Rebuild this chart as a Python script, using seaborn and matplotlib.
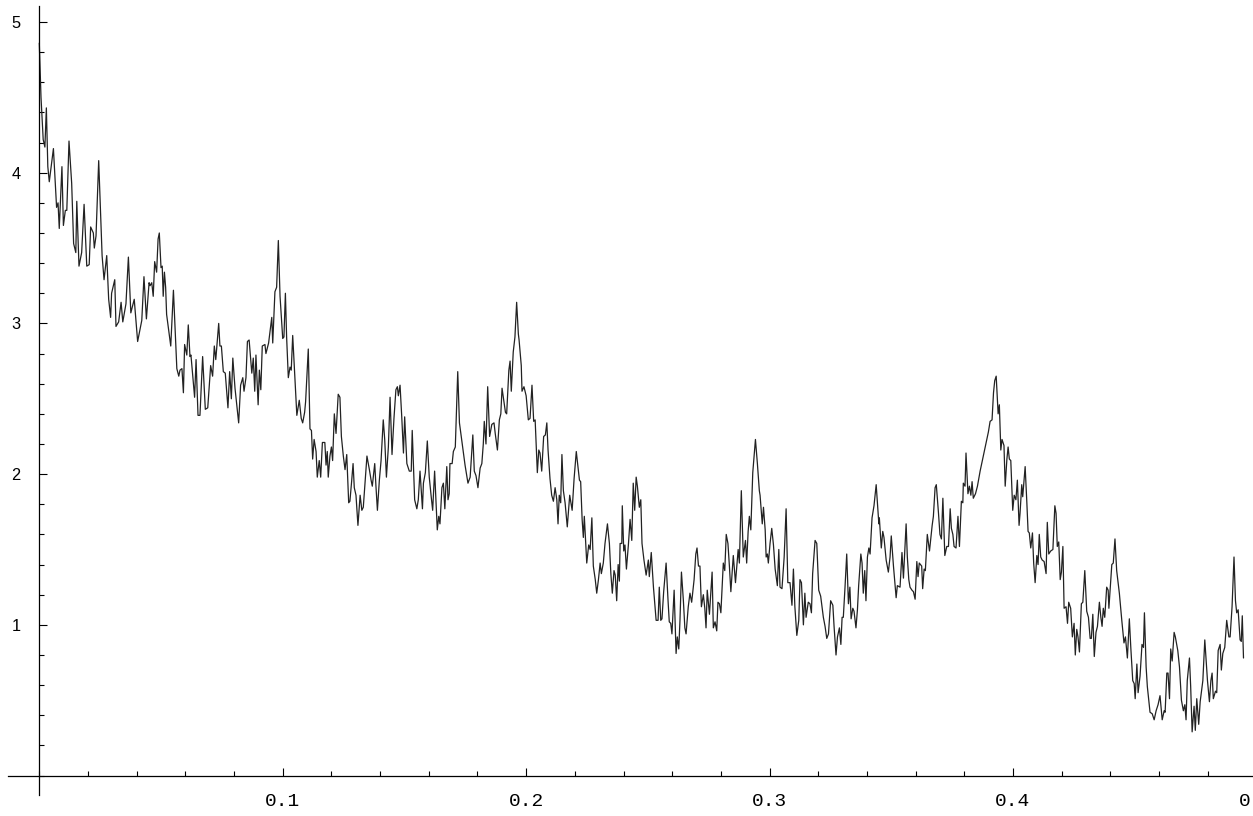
import matplotlib
matplotlib.use('Agg')
import matplotlib.pyplot as plt
from matplotlib.ticker import MultipleLocator
import seaborn as sns

# curve vertices, in pieces from left to right
x1 = [0.0000, 0.0007, 0.0016, 0.0023, 0.0029, 0.0035, 0.0041, 0.0058, 0.0071, 0.0077,
      0.0082, 0.0093, 0.0099, 0.0107, 0.0113, 0.0122, 0.0133, 0.0141, 0.0150, 0.0154,
      0.0163, 0.0174, 0.0184, 0.0195, 0.0205, 0.0211, 0.0222, 0.0226, 0.0233, 0.0244,
      0.0258, 0.0266, 0.0277, 0.0285, 0.0293, 0.0297, 0.0310, 0.0315, 0.0326, 0.0336,
      0.0343, 0.0356, 0.0366, 0.0376, 0.0390, 0.0404, 0.0421, 0.0430, 0.0440, 0.0451]
y1 = [4.86, 4.50, 4.22, 4.17, 4.43, 4.04, 3.94, 4.16, 3.77, 3.80,
      3.63, 4.04, 3.65, 3.75, 3.75, 4.21, 3.93, 3.53, 3.47, 3.81,
      3.38, 3.47, 3.79, 3.38, 3.39, 3.64, 3.60, 3.50, 3.58, 4.08,
      3.45, 3.29, 3.45, 3.16, 3.04, 3.20, 3.29, 2.98, 3.01, 3.14,
      3.01, 3.13, 3.44, 3.07, 3.16, 2.88, 3.02, 3.31, 3.03, 3.27]

x2 = [0.0455, 0.0462, 0.0468, 0.0474, 0.0482, 0.0488, 0.0493, 0.0500, 0.0505, 0.0509,
      0.0514, 0.0519, 0.0523, 0.0540, 0.0551, 0.0565, 0.0573, 0.0578, 0.0586, 0.0592,
      0.0597, 0.0606, 0.0612, 0.0619, 0.0623, 0.0633, 0.0638, 0.0644, 0.0652, 0.0660,
      0.0671, 0.0682, 0.0692, 0.0704, 0.0712, 0.0719, 0.0725, 0.0737, 0.0742, 0.0748,
      0.0756, 0.0764, 0.0775, 0.0782, 0.0789, 0.0795, 0.0804, 0.0819, 0.0827, 0.0836,
      0.0841, 0.0849, 0.0855, 0.0862, 0.0873, 0.0879, 0.0885, 0.0890, 0.0899, 0.0904,
      0.0910, 0.0916, 0.0927, 0.0931, 0.0942, 0.0955]
y2 = [3.25, 3.27, 3.18, 3.41, 3.34, 3.56, 3.60, 3.37, 3.38, 3.18,
      3.34, 3.24, 3.06, 2.85, 3.22, 2.70, 2.65, 2.69, 2.70, 2.54,
      2.86, 2.79, 2.99, 2.78, 2.79, 2.60, 2.51, 2.76, 2.39, 2.39,
      2.78, 2.43, 2.44, 2.72, 2.65, 2.85, 2.76, 3.00, 2.85, 2.85,
      2.68, 2.67, 2.44, 2.68, 2.50, 2.77, 2.57, 2.34, 2.59, 2.64,
      2.55, 2.64, 2.88, 2.89, 2.67, 2.77, 2.55, 2.79, 2.46, 2.69,
      2.56, 2.85, 2.86, 2.80, 2.87, 3.04]

x3 = [0.0959, 0.0968, 0.0975, 0.0982, 0.0989, 0.1000, 0.1005, 0.1011, 0.1016, 0.1023,
      0.1030, 0.1035, 0.1041, 0.1046, 0.1058, 0.1068, 0.1076, 0.1082, 0.1090, 0.1094,
      0.1105, 0.1112, 0.1118, 0.1123, 0.1129, 0.1137, 0.1142, 0.1150, 0.1156, 0.1163,
      0.1173, 0.1178, 0.1183, 0.1187, 0.1194, 0.1200, 0.1205, 0.1212, 0.1219, 0.1228,
      0.1235, 0.1241, 0.1249, 0.1256, 0.1263, 0.1271, 0.1276, 0.1283, 0.1289, 0.1294,
      0.1301, 0.1309, 0.1318, 0.1325, 0.1331, 0.1346, 0.1356, 0.1363, 0.1368, 0.1378,
      0.1383, 0.1389, 0.1397, 0.1404, 0.1413, 0.1419, 0.1426, 0.1434, 0.1441, 0.1449,
      0.1457, 0.1465, 0.1471, 0.1475, 0.1482]
y3 = [2.87, 3.21, 3.24, 3.55, 3.18, 2.90, 2.91, 3.20, 2.91, 2.64,
      2.71, 2.69, 2.92, 2.76, 2.39, 2.49, 2.37, 2.34, 2.41, 2.48,
      2.83, 2.30, 2.29, 2.10, 2.23, 2.15, 1.98, 2.09, 1.98, 2.21,
      2.21, 2.06, 2.15, 1.98, 2.12, 2.18, 2.09, 2.40, 2.27, 2.53,
      2.51, 2.25, 2.12, 2.03, 2.13, 1.81, 1.82, 1.95, 2.07, 1.91,
      1.86, 1.66, 1.86, 1.76, 1.78, 2.12, 2.03, 1.96, 1.92, 2.07,
      1.92, 1.76, 1.96, 2.09, 2.36, 2.23, 1.98, 2.18, 2.51, 2.13,
      2.37, 2.56, 2.58, 2.52, 2.59]

x4 = [0.1489, 0.1496, 0.1501, 0.1510, 0.1520, 0.1528, 0.1532, 0.1542, 0.1551, 0.1557,
      0.1564, 0.1574, 0.1578, 0.1586, 0.1594, 0.1602, 0.1610, 0.1616, 0.1624, 0.1635,
      0.1641, 0.1646, 0.1654, 0.1660, 0.1666, 0.1674, 0.1679, 0.1684, 0.1687, 0.1696,
      0.1701, 0.1709, 0.1719, 0.1726, 0.1735, 0.1749, 0.1761, 0.1770, 0.1781, 0.1787,
      0.1794, 0.1802, 0.1811, 0.1818, 0.1824, 0.1828, 0.1835, 0.1842, 0.1850, 0.1859,
      0.1868, 0.1873, 0.1882, 0.1890, 0.1896, 0.1901, 0.1909, 0.1915, 0.1920, 0.1929,
      0.1934, 0.1939, 0.1947, 0.1954, 0.1961, 0.1968]
y4 = [2.38, 2.14, 2.38, 2.07, 2.02, 2.02, 2.29, 1.83, 1.77, 1.83,
      2.02, 1.77, 1.94, 2.01, 2.22, 1.98, 1.85, 1.76, 2.02, 1.63,
      1.72, 1.67, 1.91, 1.94, 1.77, 2.05, 1.83, 1.87, 2.07, 2.07,
      2.15, 2.18, 2.68, 2.34, 2.23, 2.06, 1.94, 1.98, 2.26, 2.02,
      1.99, 1.91, 2.04, 2.07, 2.20, 2.35, 2.20, 2.58, 2.25, 2.33,
      2.34, 2.27, 2.16, 2.36, 2.40, 2.57, 2.48, 2.41, 2.40, 2.69,
      2.75, 2.55, 2.81, 2.91, 3.14, 2.93]

x5 = [0.1971, 0.1980, 0.1983, 0.1991, 0.2000, 0.2009, 0.2016, 0.2024, 0.2031, 0.2037,
      0.2046, 0.2052, 0.2057, 0.2064, 0.2072, 0.2079, 0.2085, 0.2090, 0.2098, 0.2105,
      0.2112, 0.2119, 0.2126, 0.2131, 0.2136, 0.2142, 0.2147, 0.2153, 0.2160, 0.2169,
      0.2179, 0.2189, 0.2197, 0.2206, 0.2219, 0.2224, 0.2230, 0.2235, 0.2239, 0.2249,
      0.2257, 0.2263, 0.2270, 0.2276, 0.2284, 0.2290, 0.2297, 0.2304, 0.2309, 0.2317,
      0.2324, 0.2334, 0.2342, 0.2348, 0.2354, 0.2361, 0.2366, 0.2372, 0.2378, 0.2383,
      0.2386, 0.2393, 0.2395, 0.2401, 0.2406, 0.2412, 0.2420, 0.2427]
y5 = [2.89, 2.72, 2.55, 2.58, 2.52, 2.36, 2.37, 2.59, 2.35, 2.36,
      2.01, 2.16, 2.14, 2.02, 2.25, 2.26, 2.34, 2.16, 1.97, 1.86,
      1.82, 1.91, 1.83, 1.67, 1.86, 1.81, 2.13, 1.89, 1.81, 1.65,
      1.86, 1.76, 1.97, 2.15, 1.96, 1.95, 1.70, 1.58, 1.72, 1.41,
      1.53, 1.50, 1.71, 1.39, 1.30, 1.21, 1.30, 1.41, 1.34, 1.41,
      1.54, 1.67, 1.54, 1.34, 1.21, 1.36, 1.33, 1.16, 1.40, 1.29,
      1.54, 1.54, 1.79, 1.49, 1.53, 1.37, 1.53, 1.70]

x6 = [0.2434, 0.2440, 0.2446, 0.2452, 0.2457, 0.2465, 0.2471, 0.2476, 0.2484, 0.2493,
      0.2502, 0.2506, 0.2514, 0.2523, 0.2534, 0.2542, 0.2547, 0.2553, 0.2558, 0.2565,
      0.2575, 0.2583, 0.2588, 0.2594, 0.2599, 0.2608, 0.2616, 0.2621, 0.2627, 0.2632,
      0.2638, 0.2646, 0.2652, 0.2657, 0.2666, 0.2673, 0.2680, 0.2690, 0.2697, 0.2702,
      0.2708, 0.2714, 0.2720, 0.2728, 0.2734, 0.2739, 0.2744, 0.2753, 0.2764, 0.2769,
      0.2776, 0.2783, 0.2788, 0.2794, 0.2800, 0.2810, 0.2816, 0.2822, 0.2829, 0.2835,
      0.2841, 0.2851, 0.2860, 0.2871, 0.2876, 0.2884, 0.2892, 0.2901, 0.2906, 0.2912,
      0.2917, 0.2923, 0.2931, 0.2942, 0.2950, 0.2958]
y6 = [1.56, 1.94, 1.76, 1.98, 1.92, 1.78, 1.83, 1.54, 1.43, 1.33,
      1.43, 1.32, 1.48, 1.25, 1.03, 1.03, 1.25, 1.03, 1.04, 1.22,
      1.41, 1.16, 1.02, 1.01, 0.94, 1.23, 0.81, 0.92, 0.84, 1.03,
      1.35, 1.16, 0.98, 0.94, 1.12, 1.21, 1.15, 1.30, 1.47, 1.51,
      1.39, 1.39, 1.12, 1.20, 1.11, 0.98, 1.23, 1.07, 1.35, 0.98,
      1.02, 0.96, 1.15, 1.14, 1.08, 1.41, 1.36, 1.60, 1.54, 1.39,
      1.22, 1.46, 1.28, 1.50, 1.41, 1.89, 1.45, 1.56, 1.41, 1.62,
      1.72, 1.63, 2.01, 2.23, 2.07, 1.89]

x7 = [0.2961, 0.2970, 0.2975, 0.2982, 0.2986, 0.2991, 0.2995, 0.3002, 0.3009, 0.3016,
      0.3023, 0.3032, 0.3038, 0.3043, 0.3051, 0.3060, 0.3068, 0.3075, 0.3084, 0.3092,
      0.3098, 0.3104, 0.3112, 0.3120, 0.3125, 0.3131, 0.3139, 0.3145, 0.3150, 0.3159,
      0.3166, 0.3172, 0.3177, 0.3187, 0.3194, 0.3202, 0.3210, 0.3221, 0.3228, 0.3235,
      0.3242, 0.3251, 0.3260, 0.3265, 0.3273, 0.3279, 0.3287, 0.3293, 0.3298, 0.3303,
      0.3310, 0.3317, 0.3324, 0.3330, 0.3335, 0.3342, 0.3347, 0.3355, 0.3361, 0.3366,
      0.3375, 0.3380, 0.3385, 0.3391, 0.3396, 0.3402, 0.3408, 0.3413, 0.3421, 0.3429,
      0.3438]
y7 = [1.86, 1.67, 1.78, 1.63, 1.45, 1.47, 1.41, 1.54, 1.64, 1.53,
      1.37, 1.26, 1.50, 1.25, 1.24, 1.45, 1.77, 1.28, 1.28, 1.13,
      1.37, 1.12, 0.93, 1.03, 1.30, 1.28, 1.00, 1.21, 1.05, 1.15,
      1.14, 1.08, 1.34, 1.56, 1.54, 1.23, 1.19, 1.05, 0.99, 0.91,
      0.94, 1.16, 1.13, 0.99, 0.80, 0.92, 0.98, 0.87, 1.05, 1.05,
      1.25, 1.47, 1.14, 1.25, 1.04, 1.11, 1.09, 0.98, 1.10, 1.26,
      1.47, 1.41, 1.21, 1.36, 1.16, 1.45, 1.51, 1.47, 1.71, 1.79,
      1.93]

x8 = [0.3449, 0.3451, 0.3459, 0.3465, 0.3470, 0.3479, 0.3488, 0.3495, 0.3500, 0.3509,
      0.3520, 0.3525, 0.3536, 0.3544, 0.3550, 0.3561, 0.3566, 0.3572, 0.3577, 0.3585,
      0.3591, 0.3598, 0.3605, 0.3610, 0.3615, 0.3625, 0.3629, 0.3635, 0.3640, 0.3648,
      0.3657, 0.3668, 0.3673, 0.3680, 0.3685, 0.3694, 0.3700, 0.3706, 0.3712, 0.3720,
      0.3728, 0.3735, 0.3742, 0.3747, 0.3753, 0.3758, 0.3766, 0.3774, 0.3780, 0.3788,
      0.3794, 0.3796, 0.3803, 0.3807, 0.3815, 0.3821, 0.3827, 0.3832, 0.3837, 0.3846,
      0.3854, 0.3865, 0.3878, 0.3892, 0.3899, 0.3906, 0.3914, 0.3920, 0.3925, 0.3931,
      0.3939, 0.3944]
y8 = [1.67, 1.71, 1.51, 1.62, 1.58, 1.43, 1.35, 1.45, 1.59, 1.39,
      1.18, 1.26, 1.25, 1.48, 1.31, 1.67, 1.45, 1.30, 1.25, 1.23,
      1.22, 1.17, 1.42, 1.32, 1.41, 1.39, 1.24, 1.37, 1.36, 1.60,
      1.49, 1.66, 1.72, 1.91, 1.93, 1.74, 1.60, 1.57, 1.84, 1.46,
      1.52, 1.52, 1.77, 1.64, 1.60, 1.52, 1.51, 1.72, 1.52, 1.82,
      1.81, 1.94, 1.92, 2.14, 1.87, 1.92, 1.86, 1.95, 1.84, 1.87,
      1.92, 2.02, 2.12, 2.23, 2.28, 2.35, 2.36, 2.54, 2.62, 2.65,
      2.40, 2.46]

x9 = [0.3950, 0.3955, 0.3963, 0.3968, 0.3975, 0.3980, 0.3985, 0.3991, 0.3999, 0.4005,
      0.4012, 0.4018, 0.4025, 0.4029, 0.4036, 0.4040, 0.4050, 0.4057, 0.4062, 0.4067,
      0.4073, 0.4080, 0.4085, 0.4091, 0.4098, 0.4103, 0.4108, 0.4114, 0.4120, 0.4128,
      0.4136, 0.4141, 0.4147, 0.4155, 0.4164, 0.4172, 0.4177, 0.4182, 0.4188, 0.4194,
      0.4199, 0.4205, 0.4210, 0.4218, 0.4224, 0.4229, 0.4237, 0.4244, 0.4251, 0.4256,
      0.4262, 0.4267, 0.4273, 0.4281, 0.4287, 0.4295, 0.4303, 0.4310, 0.4317, 0.4322,
      0.4328, 0.4334, 0.4341, 0.4347, 0.4355, 0.4361, 0.4366, 0.4371, 0.4377, 0.4385,
      0.4391, 0.4394, 0.4399]
y9 = [2.16, 2.23, 2.19, 1.92, 2.10, 2.18, 2.10, 2.09, 1.76, 1.86,
      1.83, 1.96, 1.66, 1.74, 1.93, 1.85, 2.05, 1.81, 1.62, 1.61,
      1.51, 1.61, 1.41, 1.28, 1.46, 1.40, 1.60, 1.45, 1.43, 1.42,
      1.34, 1.68, 1.47, 1.49, 1.50, 1.79, 1.74, 1.52, 1.55, 1.30,
      1.35, 1.52, 1.11, 1.12, 1.01, 1.15, 1.11, 0.92, 1.01, 0.80,
      0.97, 0.92, 0.82, 1.14, 1.15, 1.36, 1.09, 1.05, 0.91, 0.91,
      1.07, 0.79, 0.95, 0.99, 1.15, 1.05, 0.99, 1.11, 1.05, 1.25,
      1.23, 1.11, 1.23]

x10 = [0.4406, 0.4412, 0.4419, 0.4426, 0.4437, 0.4447, 0.4456, 0.4462, 0.4470, 0.4478,
       0.4484, 0.4492, 0.4498, 0.4502, 0.4509, 0.4514, 0.4522, 0.4530, 0.4536, 0.4540,
       0.4547, 0.4552, 0.4563, 0.4572, 0.4580, 0.4588, 0.4596, 0.4604, 0.4613, 0.4621,
       0.4625, 0.4632, 0.4637, 0.4643, 0.4648, 0.4654, 0.4662, 0.4667, 0.4677, 0.4684,
       0.4692, 0.4700, 0.4706, 0.4711, 0.4716, 0.4725, 0.4730, 0.4736, 0.4744, 0.4749,
       0.4755, 0.4763, 0.4769, 0.4780, 0.4788, 0.4793, 0.4799, 0.4807, 0.4813, 0.4818,
       0.4823, 0.4832, 0.4837, 0.4843, 0.4851, 0.4856, 0.4862, 0.4870, 0.4878, 0.4887,
       0.4892, 0.4900, 0.4908, 0.4914, 0.4919, 0.4925, 0.4933, 0.4938, 0.4942, 0.4947]
y10 = [1.40, 1.41, 1.57, 1.36, 1.21, 1.03, 0.88, 0.92, 0.78, 1.04,
       0.85, 0.63, 0.61, 0.51, 0.74, 0.55, 0.66, 0.87, 0.85, 1.08,
       0.72, 0.59, 0.42, 0.41, 0.37, 0.43, 0.47, 0.53, 0.37, 0.43,
       0.42, 0.68, 0.68, 0.51, 0.84, 0.76, 0.95, 0.92, 0.83, 0.72,
       0.50, 0.43, 0.47, 0.37, 0.63, 0.78, 0.59, 0.29, 0.46, 0.30,
       0.51, 0.34, 0.49, 0.63, 0.90, 0.78, 0.63, 0.49, 0.63, 0.68,
       0.51, 0.56, 0.55, 0.83, 0.87, 0.70, 0.81, 0.85, 1.03, 0.92,
       0.92, 1.12, 1.45, 1.16, 1.08, 1.10, 0.90, 0.89, 1.06, 0.78]

x_ticks = [0.1, 0.2, 0.3, 0.4, 0.5]
x_labels = ['0.1', '0.2', '0.3', '0.4', '0.5']
y_ticks = [1, 2, 3, 4, 5]
y_labels = ['1', '2', '3', '4', '5']

x_vals = x1 + x2 + x3 + x4 + x5 + x6 + x7 + x8 + x9 + x10
y_vals = y1 + y2 + y3 + y4 + y5 + y6 + y7 + y8 + y9 + y10

sns.set_style('white')
plt.rcParams['font.family'] = ['Liberation Sans', 'DejaVu Sans']

fig = plt.figure(figsize=(12.53, 8.16), dpi=100)
# axes run a bit past the right edge, like the cropped original
ax = fig.add_axes([0.00638, 0.025735, 1.01576, 0.96691])

sns.lineplot(x=x_vals, y=y_vals, estimator=None, sort=False,
             color='#222222', linewidth=0.9, ax=ax)

ax.set_xlim(-0.01286, 0.51)
ax.set_ylim(-0.129, 5.106)

# axes cross at the origin
ax.spines['top'].set_visible(False)
ax.spines['right'].set_visible(False)
ax.spines['left'].set_position(('data', 0))
ax.spines['bottom'].set_position(('data', 0))
for s in ['left', 'bottom']:
    ax.spines[s].set_linewidth(0.9)
    ax.spines[s].set_color('black')

ax.set_xticks(x_ticks)
ax.set_xticklabels(x_labels, fontfamily='Liberation Mono', fontsize=14)
ax.xaxis.set_minor_locator(MultipleLocator(0.02))
ax.set_yticks(y_ticks)
ax.set_yticklabels(y_labels, fontsize=11.8)
ax.yaxis.set_minor_locator(MultipleLocator(0.2))

# seaborn's white style switches the tick marks off, so turn them back on
ax.tick_params(axis='both', which='both', direction='in', width=0.8,
               color='black', labelcolor='black', bottom=True, left=True)
ax.tick_params(axis='x', which='major', length=5.8, pad=12.5)
ax.tick_params(axis='y', which='major', length=5.8, pad=13.4)
ax.tick_params(axis='both', which='minor', length=3.3)

fig.savefig('out.png', dpi=100)
